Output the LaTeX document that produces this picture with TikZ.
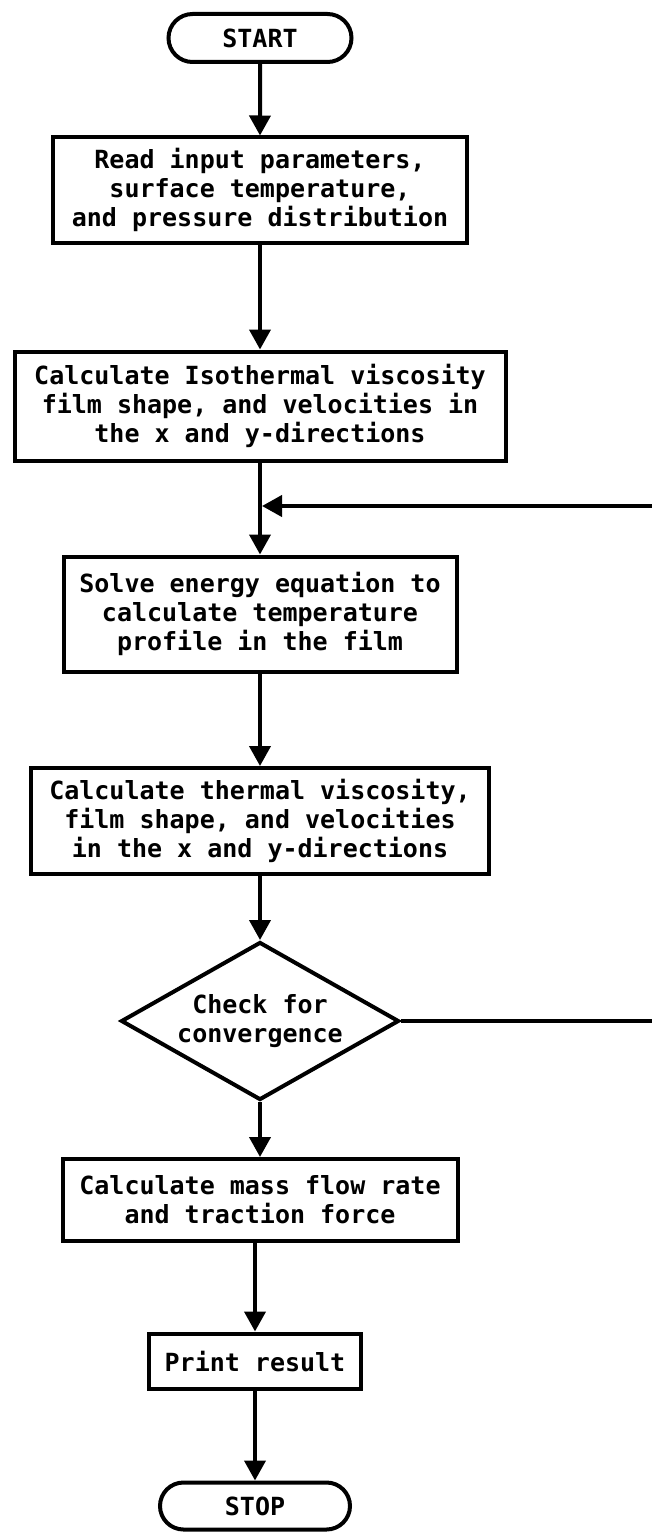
\documentclass[tikz,border=0pt]{standalone}
\usepackage{fontspec}
\setmainfont{DejaVu Sans Mono}
\usetikzlibrary{arrows.meta,shapes.geometric,shapes.misc}
\begin{document}
\begin{tikzpicture}[x=1pt,y=-1pt,
  every node/.style={font=\fontsize{25}{29}\selectfont\bfseries,line width=4pt,align=center,inner sep=0pt},
  box/.style={draw,rectangle},
  term/.style={draw,rounded rectangle},
  test/.style={draw,diamond,aspect=1.76}]
\useasboundingbox (0,0) rectangle (652,1536);
\clip (0,0) rectangle (652,1536);
\node[term,minimum width=183pt,minimum height=48pt] (start) at (260,38) {START};
\node[box,minimum width=414pt,minimum height=105pt] (inp) at (260,190) {Read input parameters,\\surface temperature,\\and pressure distribution};
\node[box,minimum width=491pt,minimum height=109pt] (iso) at (260,406) {Calculate Isothermal viscosity\\film shape, and velocities in\\the x and y-directions};
\node[box,minimum width=393pt,minimum height=115pt] (energy) at (260,614) {Solve energy equation to\\calculate temperature\\profile in the film};
\node[box,minimum width=458pt,minimum height=106pt] (therm) at (260,821) {Calculate thermal viscosity,\\film shape, and velocities\\in the x and y-directions};
\node[test,minimum width=278pt,minimum height=158pt] (conv) at (260,1021) {Check for\\convergence};
\node[box,minimum width=395pt,minimum height=82pt] (mass) at (260,1200) {Calculate mass flow rate\\and traction force};
\node[box,minimum width=212pt,minimum height=55pt] (print) at (255,1361) {Print result};
\node[term,minimum width=190pt,minimum height=47pt] (stop) at (255,1506) {STOP};
\coordinate (join) at (262,506);
\coordinate (back) at (672,506);
\path[->,line width=4pt,>={Triangle[length=20pt,width=21pt]}]
(start) edge (inp)
(inp) edge (iso)
(iso) edge (energy)
(energy) edge (therm)
(therm) edge (conv)
(conv) edge (mass)
(mass.south -| print) edge (print)
(print) edge (stop)
;
\draw[->,line width=4pt,>={Triangle[length=20pt,width=21pt]}]
(conv.east) -| (back) -- (join);
\end{tikzpicture}
\end{document}
